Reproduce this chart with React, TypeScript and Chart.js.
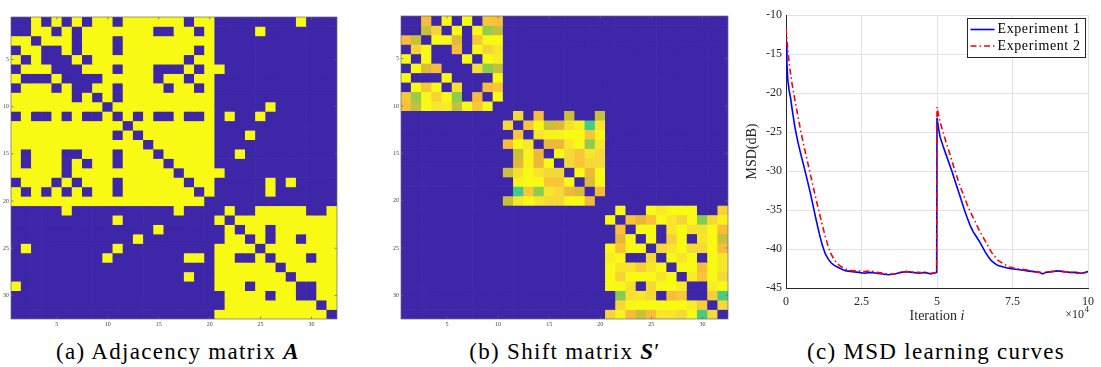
import React, { useEffect, useRef } from "react";
import { Chart, registerables } from "chart.js";

Chart.register(...registerables);

const SERIF = '"Liberation Serif", "Times New Roman", serif';

// ---------------- (a) adjacency matrix A (1 = edge) ----------------
const matrixSize = 32;
const matrixTickValues = [5, 10, 15, 20, 25, 30];
const adjacencyRows: string[] = [
  "00101010110111111011000000001000",
  "00110101111111001101000010000000",
  "11011101110111111111000000000000",
  "01100101110111111101000000000000",
  "10100010111111111011000000000000",
  "01110001110111000101100000000000",
  "10001000011111011011000000000000",
  "01110100110111101101000000000000",
  "11111101010111111111000000000000",
  "11111111101111111111000001000000",
  "01001010010101001001010010000000",
  "11111111111011111111000000000000",
  "11111111110101111111000100000000",
  "11111111111110111111000000000000",
  "10111001110111011111001000000000",
  "10111010110111101111000000000000",
  "11111011111111110111100000000000",
  "01110101110111111011000001010000",
  "10101010110111111101000001000000",
  "11111111111111111110000000000000",
  "00000100000000001000010011111001",
  "00000000001000000000101111111111",
  "00000000000000100000010110111111",
  "00000000000010000000011010110111",
  "01000000001000000000111101111111",
  "00000000010000000110110010111011",
  "00000000000000000000111111011111",
  "00000000000000000100111111101111",
  "10000000000000000000111011110011",
  "00000000000000000000011110110011",
  "00000000000000000000011111111101",
  "00000000000000000000111111111110",
];

// ---------------- (b) shift matrix S' : block-diagonal weights ----------------
const shiftBlockStarts = [0, 10, 20];
const shiftBlock1: number[][] = [
  [0, 0, 0.9, 0, 1.0, 0, 1.0, 0, 0.92, 0.91],
  [0, 0, 0.81, 0.94, 0, 1.0, 0, 1.0, 0.74, 0.8],
  [0.9, 0.81, 0, 1.0, 1.0, 0.84, 0, 0.92, 1.0, 1.0],
  [0, 0.94, 1.0, 0, 0, 0.9, 0, 1.0, 0.94, 0.97],
  [1.0, 0, 1.0, 0, 0, 0, 1.0, 0, 1.0, 0.98],
  [0, 1.0, 0.84, 0.9, 0, 0, 0, 0.96, 0.72, 0.8],
  [1.0, 0, 0, 0, 1.0, 0, 0, 0, 0, 1.0],
  [0, 1.0, 0.92, 1.0, 0, 0.96, 0, 0, 0.9, 0.92],
  [0.92, 0.74, 1.0, 0.94, 1.0, 0.72, 0, 0.9, 0, 1.0],
  [0.91, 0.8, 1.0, 0.97, 0.98, 0.8, 1.0, 0.92, 1.0, 0],
];
const shiftBlock2: number[][] = [
  [0, 0.95, 0, 0.9, 0, 0, 0.82, 0, 0, 0.81],
  [0.95, 0, 0.92, 1.0, 0.81, 0.85, 0.96, 0.99, 0.62, 0.97],
  [0, 0.92, 0, 0.97, 0.99, 0.99, 1.0, 1.0, 0.92, 1.0],
  [0.9, 1.0, 0.97, 0, 0.87, 0.87, 0.97, 1.0, 0.72, 0.97],
  [0, 0.81, 0.99, 0.87, 0, 1.0, 0.95, 0.92, 0.97, 0.95],
  [0, 0.85, 0.99, 0.87, 1.0, 0, 0.95, 0.92, 0.95, 0.95],
  [0.82, 0.96, 1.0, 0.97, 0.95, 0.95, 0, 1.0, 0.88, 1.0],
  [0, 0.99, 1.0, 1.0, 0.92, 0.92, 1.0, 0, 0.84, 1.0],
  [0, 0.62, 0.92, 0.72, 0.97, 0.95, 0.88, 0.84, 0, 0.89],
  [0.81, 0.97, 1.0, 0.97, 0.95, 0.95, 1.0, 1.0, 0.89, 0],
];
const shiftBlock3: number[][] = [
  [0, 1.0, 0, 0, 1.0, 0.98, 1.0, 1.0, 1.0, 0, 0, 0.94],
  [1.0, 0, 0.91, 0.86, 0.91, 1.0, 0.97, 0.94, 1.0, 0.71, 0.95, 0.99],
  [0, 0.91, 0, 1.0, 1.0, 0, 0.97, 1.0, 0.96, 0.96, 1.0, 0.9],
  [0, 0.86, 1.0, 0, 1.0, 0, 0.93, 1.0, 0, 0.97, 1.0, 0.81],
  [1.0, 0.91, 1.0, 1.0, 0, 0.95, 0.97, 1.0, 0.95, 0.95, 1.0, 0.9],
  [0.98, 1.0, 0, 0, 0.95, 0, 1.0, 0.97, 1.0, 0, 1.0, 0.97],
  [1.0, 0.97, 0.97, 0.93, 0.97, 1.0, 0, 1.0, 1.0, 0.9, 1.0, 0.97],
  [1.0, 0.94, 1.0, 1.0, 1.0, 0.97, 1.0, 0, 0.98, 0.92, 1.0, 0.95],
  [1.0, 1.0, 0.96, 0, 0.95, 1.0, 1.0, 0.98, 0, 0, 0.98, 1.0],
  [0, 0.71, 0.96, 0.97, 0.95, 0, 0.9, 0.92, 0, 0, 0.93, 0.63],
  [0, 0.95, 1.0, 1.0, 1.0, 1.0, 1.0, 1.0, 0.98, 0.93, 0, 0.95],
  [0.94, 0.99, 0.9, 0.81, 0.9, 0.97, 0.97, 0.95, 1.0, 0.63, 0.95, 0],
];

// ---------------- (c) MSD learning curves (iteration in units of 10^4) ----------------
const seriesLabels = ["Experiment 1", "Experiment 2"];
const iterations = [
  0, 0.03, 0.06, 0.1, 0.15, 0.2, 0.3, 0.4, 0.5, 0.6, 0.7, 0.8, 0.9, 1.0, 1.1, 1.2, 1.3, 1.4, 1.5,
  1.6, 1.7, 1.8, 1.9, 2.0, 2.2, 2.4, 2.6, 2.8, 3.0, 3.2, 3.4, 3.6, 3.8, 4.0, 4.2, 4.4, 4.6, 4.8,
  4.99, 5.0, 5.05, 5.1, 5.2, 5.3, 5.4, 5.5, 5.6, 5.7, 5.8, 5.9, 6.0, 6.1, 6.2, 6.3, 6.4, 6.5, 6.6,
  6.7, 6.8, 6.9, 7.0, 7.2, 7.4, 7.6, 7.8, 8.0, 8.2, 8.4, 8.5, 8.6, 8.8, 9.0, 9.2, 9.4, 9.6, 9.8, 10,
];
const msdExperiment1 = [
  -13.5, -16.2, -18.3, -19.6, -20.6, -22.0, -24.5, -26.4, -28.0, -29.5, -31.1, -32.7, -34.5, -36.3,
  -38.0, -39.5, -40.6, -41.3, -41.8, -42.1, -42.3, -42.5, -42.7, -42.8, -42.9, -43.0, -43.1, -43.0,
  -43.1, -43.2, -43.3, -43.2, -43.0, -42.9, -43.0, -43.1, -43.0, -43.2, -43.0, -23.2, -24.5, -25.6,
  -26.8, -27.9, -29.0, -30.1, -31.3, -32.5, -33.7, -34.9, -36.0, -37.0, -37.8, -38.4, -39.0, -39.7,
  -40.4, -41.0, -41.5, -41.8, -42.1, -42.3, -42.5, -42.6, -42.7, -42.8, -42.9, -43.0, -43.2, -43.0,
  -42.9, -42.8, -42.9, -43.0, -43.0, -43.1, -42.9,
];
const msdExperiment2 = [
  -11.7, -13.2, -14.5, -16.0, -17.5, -18.8, -21.0, -23.1, -25.1, -26.9, -28.6, -30.3, -32.0, -33.7,
  -35.3, -36.9, -38.4, -39.7, -40.7, -41.4, -41.9, -42.2, -42.4, -42.6, -42.8, -42.8, -42.9, -42.8,
  -43.0, -43.1, -43.2, -43.2, -43.0, -42.9, -43.0, -43.0, -43.1, -43.1, -43.0, -21.8, -22.8, -23.7,
  -25.0, -26.3, -27.5, -28.8, -30.0, -31.2, -32.3, -33.3, -34.3, -35.2, -36.0, -36.8, -37.6, -38.3,
  -39.0, -39.7, -40.4, -40.9, -41.4, -41.9, -42.3, -42.5, -42.6, -42.7, -42.9, -43.0, -43.1, -43.0,
  -42.9, -42.8, -42.9, -43.0, -43.1, -43.1, -43.0,
];
const xTickValues = [0, 2.5, 5, 7.5, 10];
const yTickValues = [-45, -40, -35, -30, -25, -20, -15, -10];

// ---------------- colour map (parula-like) ----------------
const colormapStops: [number, number[]][] = [
  [0.0, [62, 38, 168]],
  [0.1, [72, 82, 244]],
  [0.2, [40, 122, 242]],
  [0.3, [30, 148, 222]],
  [0.4, [12, 170, 200]],
  [0.5, [24, 186, 170]],
  [0.62, [64, 203, 138]],
  [0.72, [140, 204, 80]],
  [0.82, [205, 192, 56]],
  [0.86, [232, 182, 58]],
  [0.9, [249, 187, 58]],
  [0.95, [245, 217, 55]],
  [1.0, [249, 250, 20]],
];

function colorFor(v: number): string {
  const t = Math.max(0, Math.min(1, v));
  for (let i = 1; i < colormapStops.length; i++) {
    const [t1, c1] = colormapStops[i];
    const [t0, c0] = colormapStops[i - 1];
    if (t <= t1) {
      const f = (t - t0) / (t1 - t0 || 1);
      const c = c0.map((a, k) => Math.round(a + (c1[k] - a) * f));
      return `rgb(${c[0]},${c[1]},${c[2]})`;
    }
  }
  const c = colormapStops[colormapStops.length - 1][1];
  return `rgb(${c[0]},${c[1]},${c[2]})`;
}

function adjacencyMatrix(): number[][] {
  return adjacencyRows.map((row) => row.split("").map((ch) => (ch === "1" ? 1 : 0)));
}

function shiftMatrix(): number[][] {
  const m = Array.from({ length: matrixSize }, () => new Array(matrixSize).fill(0));
  [shiftBlock1, shiftBlock2, shiftBlock3].forEach((block, b) => {
    const s = shiftBlockStarts[b];
    block.forEach((row, i) => row.forEach((v, j) => { m[s + i][s + j] = v; }));
  });
  return m;
}

// frame + inward tick marks for the image plots
const framePlugin = {
  id: "frame",
  afterDatasetsDraw(chart: any, _args: any, opts: any) {
    const { ctx, chartArea: a } = chart;
    ctx.save();
    ctx.strokeStyle = opts.color || "#666";
    ctx.lineWidth = opts.width || 0.7;
    ctx.strokeRect(a.left, a.top, a.right - a.left, a.bottom - a.top);
    const len = opts.tickLen || 2.5;
    ctx.beginPath();
    matrixTickValues.forEach((v) => {
      const px = chart.scales.x.getPixelForValue(v - 1);
      ctx.moveTo(px, a.bottom); ctx.lineTo(px, a.bottom - len);
      ctx.moveTo(px, a.top); ctx.lineTo(px, a.top + len);
      const py = chart.scales.y.getPixelForValue(v);
      ctx.moveTo(a.left, py); ctx.lineTo(a.left + len, py);
      ctx.moveTo(a.right, py); ctx.lineTo(a.right - len, py);
    });
    ctx.stroke();
    ctx.restore();
  },
};

function heatmapConfig(values: number[][], padTop: number, padRight: number): any {
  const labels = Array.from({ length: matrixSize }, (_, i) => String(i + 1));
  const datasets = values.map((row, r) => ({
    label: "row " + (r + 1),
    data: row.map(() => [r + 0.5, r + 1.5]),
    backgroundColor: row.map((v) => colorFor(v)),
    borderWidth: 0,
    barPercentage: 1,
    categoryPercentage: 1,
    grouped: false,
  }));
  const tickFont = { family: SERIF, size: 6 };
  return {
    type: "bar",
    data: { labels, datasets },
    options: {
      responsive: false,
      animation: false,
      devicePixelRatio: 1,
      layout: { padding: { top: padTop, right: padRight, left: 0, bottom: 0 } },
      plugins: {
        legend: { display: false },
        tooltip: { enabled: false },
        frame: { color: "#6a6a6a", width: 0.7, tickLen: 2.5 },
      },
      scales: {
        x: {
          type: "category",
          grid: { display: false, drawTicks: false },
          border: { display: false },
          ticks: {
            autoSkip: false,
            maxRotation: 0,
            padding: 2,
            color: "#444",
            font: tickFont,
            callback: (_v: any, i: number) => (matrixTickValues.includes(i + 1) ? labels[i] : ""),
          },
          afterFit: (s: any) => { s.height = 12; },
        },
        y: {
          type: "linear",
          min: 0.5,
          max: matrixSize + 0.5,
          reverse: true,
          afterBuildTicks: (s: any) => { s.ticks = matrixTickValues.map((v) => ({ value: v })); },
          grid: { display: false, drawTicks: false },
          border: { display: false },
          ticks: { padding: 2, color: "#444", font: tickFont },
          afterFit: (s: any) => { s.width = 11; },
        },
      },
    },
    plugins: [framePlugin],
  };
}

const TEXT_DARK = "#262626";

const msdExtrasPlugin = {
  id: "msdExtras",
  afterDraw(chart: any) {
    const { ctx, chartArea: a } = chart;
    ctx.save();
    ctx.fillStyle = TEXT_DARK;
    ctx.textBaseline = "alphabetic";
    // x-axis title "Iteration i"
    const cx = (a.left + a.right) / 2;
    const base = a.bottom + 32;
    ctx.font = `14px ${SERIF}`;
    const t1 = "Iteration ";
    const w1 = ctx.measureText(t1).width;
    ctx.font = `italic 14px ${SERIF}`;
    const w2 = ctx.measureText("i").width;
    const x0 = cx - (w1 + w2) / 2;
    ctx.textAlign = "left";
    ctx.font = `14px ${SERIF}`;
    ctx.fillText(t1, x0, base);
    ctx.font = `italic 14px ${SERIF}`;
    ctx.fillText("i", x0 + w1, base);
    // exponent label ×10^4
    ctx.font = `12px ${SERIF}`;
    ctx.textAlign = "right";
    ctx.fillText("\u00d710", a.right - 4, a.bottom + 30);
    ctx.font = `9px ${SERIF}`;
    ctx.textAlign = "left";
    ctx.fillText("4", a.right - 3.5, a.bottom + 24);

    // legend box
    const bw = 118, bh = 39;
    const bx = Math.round(a.right - 3 - bw) + 0.5;
    const by = Math.round(a.top + 3) + 0.5;
    ctx.fillStyle = "#ffffff";
    ctx.fillRect(bx, by, bw, bh);
    ctx.strokeStyle = TEXT_DARK;
    ctx.lineWidth = 1;
    ctx.strokeRect(bx, by, bw, bh);
    chart.data.datasets.forEach((ds: any, i: number) => {
      const y = by + 11 + i * 16.5;
      ctx.save();
      ctx.strokeStyle = ds.borderColor;
      ctx.lineWidth = ds.borderWidth;
      ctx.setLineDash(ds.borderDash || []);
      ctx.beginPath();
      ctx.moveTo(bx + 3, y);
      ctx.lineTo(bx + 27, y);
      ctx.stroke();
      ctx.restore();
      ctx.fillStyle = "#000";
      ctx.font = `14px ${SERIF}`;
      (ctx as any).letterSpacing = "0.6px";
      ctx.textAlign = "left";
      ctx.textBaseline = "middle";
      ctx.fillText(ds.label, bx + 30, y);
      (ctx as any).letterSpacing = "0px";
    });
    ctx.restore();
  },
};

function msdConfig(): any {
  const tickFont = { family: SERIF, size: 12 };
  return {
    type: "line",
    data: {
      datasets: [
        {
          label: seriesLabels[0],
          data: iterations.map((x, i) => ({ x, y: msdExperiment1[i] })),
          borderColor: "#0000ff",
          borderWidth: 1.6,
          pointRadius: 0,
          tension: 0,
          fill: false,
          order: 2,
        },
        {
          label: seriesLabels[1],
          data: iterations.map((x, i) => ({ x, y: msdExperiment2[i] })),
          borderColor: "#ff0000",
          borderWidth: 1.6,
          borderDash: [6, 3, 1.5, 3],
          pointRadius: 0,
          tension: 0,
          fill: false,
          order: 1,
        },
      ],
    },
    options: {
      responsive: false,
      animation: false,
      devicePixelRatio: 1,
      layout: { padding: { top: 15, right: 4, left: 0, bottom: 0 } },
      plugins: { legend: { display: false }, tooltip: { enabled: false } },
      scales: {
        x: {
          type: "linear",
          min: 0,
          max: 10,
          afterBuildTicks: (s: any) => { s.ticks = xTickValues.map((v) => ({ value: v })); },
          grid: { color: "#e2e2e2", lineWidth: 1, drawTicks: false },
          border: { color: TEXT_DARK, width: 1 },
          ticks: { padding: 7, color: TEXT_DARK, font: tickFont, maxRotation: 0 },
          afterFit: (s: any) => { s.height = 42; },
        },
        y: {
          type: "linear",
          min: -45,
          max: -10,
          afterBuildTicks: (s: any) => { s.ticks = yTickValues.map((v) => ({ value: v })); },
          grid: { color: "#e2e2e2", lineWidth: 1, drawTicks: false },
          border: { color: TEXT_DARK, width: 1 },
          ticks: { padding: 4, color: TEXT_DARK, font: tickFont },
          title: {
            display: true,
            text: "MSD(dB)",
            color: TEXT_DARK,
            font: { family: SERIF, size: 14 },
            padding: { top: 4, bottom: 0 },
          },
          afterFit: (s: any) => { s.width = 46; },
        },
      },
    },
    plugins: [msdExtrasPlugin],
  };
}

function ChartCanvas(props: { make: () => any; left: number; top: number; width: number; height: number }) {
  const ref = useRef<HTMLCanvasElement | null>(null);
  useEffect(() => {
    const chart = new Chart(ref.current as HTMLCanvasElement, props.make());
    return () => chart.destroy();
  }, []);
  return (
    <canvas
      ref={ref}
      width={props.width}
      height={props.height}
      style={{ position: "absolute", left: props.left, top: props.top, width: props.width, height: props.height }}
    />
  );
}

function captionStyle(cx: number): React.CSSProperties {
  return {
    position: "absolute",
    left: cx - 200,
    width: 400,
    top: 339,
    textAlign: "center",
    fontFamily: SERIF,
    fontSize: 23,
    lineHeight: "26px",
    letterSpacing: "1.3px",
    color: "#000",
    whiteSpace: "nowrap",
  };
}

export default function App() {
  return (
    <div style={{ position: "absolute", left: 0, top: 0, width: 1101, height: 367, background: "#fff", overflow: "hidden" }}>
      <ChartCanvas make={() => heatmapConfig(adjacencyMatrix(), 17, 8)} left={0} top={0} width={345} height={331} />
      <ChartCanvas make={() => heatmapConfig(shiftMatrix(), 16, 7)} left={390} top={0} width={345} height={331} />
      <ChartCanvas make={msdConfig} left={740} top={0} width={361} height={330} />
      <div style={captionStyle(178)}>
        (a) Adjacency matrix <b><i>A</i></b>
      </div>
      <div style={captionStyle(565)}>
        (b) Shift matrix <b><i>S</i></b>{"\u2032"}
      </div>
      <div style={captionStyle(936)}>(c) MSD learning curves</div>
    </div>
  );
}
